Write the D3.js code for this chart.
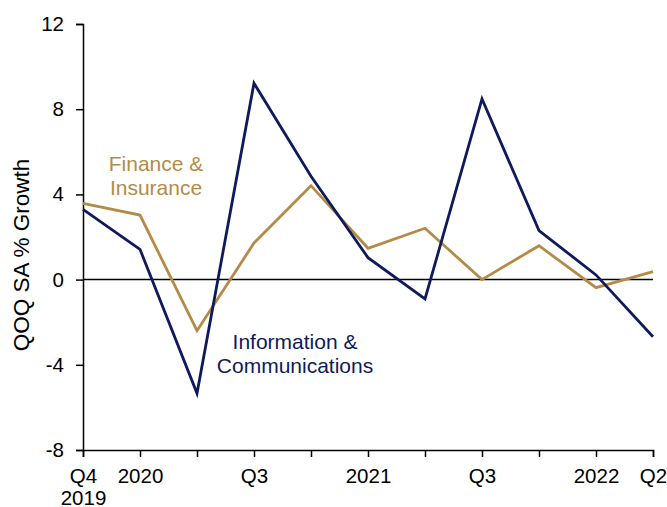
<!DOCTYPE html>
<html>
<head>
<meta charset="utf-8">
<script src="https://cdn.jsdelivr.net/npm/d3@7"></script>
<style>
  body { margin: 0; background: #fff; }
  text { font-family: "Liberation Sans", Arial, sans-serif; }
</style>
</head>
<body>
<div id="chart"></div>
<script>
// quarters from Q4 2019 to Q2 2022
const quarters = ['2019Q4', '2020Q1', '2020Q2', '2020Q3', '2020Q4', '2021Q1', '2021Q2', '2021Q3', '2021Q4', '2022Q1', '2022Q2'];
const tickLabels = [['Q4', '2019'], ['2020'], [''], ['Q3'], [''], ['2021'], [''], ['Q3'], [''], ['2022'], ['Q2']];
const infoComm = [3.3, 1.42, -5.34, 9.22, 4.85, 1.03, -0.91, 8.48, 2.3, 0.22, -2.68];
const finance = [3.58, 3.03, -2.4, 1.72, 4.41, 1.47, 2.41, 0.0, 1.59, -0.38, 0.37];
const yTicks = [-8, -4, 0, 4, 8, 12];

const W = 667, H = 507;
const m = { t: 24, r: 14, b: 57, l: 83 };
const navy = '#0f1a5c', gold = '#b38b46';
const FONT = '"Liberation Sans", Arial, sans-serif';

const svg = d3.select('#chart').append('svg').attr('width', W).attr('height', H);

const x = d3.scalePoint().domain(quarters).range([m.l, W - m.r]);
const y = d3.scaleLinear().domain([-8, 12]).range([H - m.b, m.t]);

// eje Y
svg.append('g')
  .attr('transform', `translate(${m.l},0)`)
  .call(d3.axisLeft(y).tickValues(yTicks).tickSize(7).tickPadding(12).tickFormat(d => String(d)))
  .call(g => g.selectAll('text').attr('font-size', 20.5).attr('fill', '#000').style('font-family', FONT))
  .call(g => g.selectAll('line, path').attr('stroke', '#000').attr('stroke-width', 1.5));

// eje X
const xAxis = svg.append('g')
  .attr('transform', `translate(0,${y(-8)})`)
  .call(d3.axisBottom(x).tickSize(7).tickFormat(''))
  .call(g => g.selectAll('line, path').attr('stroke', '#000').attr('stroke-width', 1.5));

xAxis.selectAll('.tick').each(function (d, i) {
  const t = d3.select(this).append('text')
    .attr('fill', '#000').attr('font-size', 20.5).attr('text-anchor', 'middle')
    .style('font-family', FONT);
  tickLabels[i].forEach((s, k) => {
    t.append('tspan').attr('x', 0).attr('y', 33 + k * 21.5).text(s);
  });
});

// línea de cero
svg.append('line')
  .attr('x1', x(quarters[0])).attr('x2', x(quarters[quarters.length - 1]))
  .attr('y1', y(0)).attr('y2', y(0))
  .attr('stroke', '#000').attr('stroke-width', 1.5);

// título del eje Y
svg.append('text')
  .attr('transform', `translate(29,255) rotate(-90)`)
  .attr('text-anchor', 'middle').attr('font-size', 22.5).attr('fill', '#000')
  .text('QOQ SA % Growth');

const line = d3.line().x((_, i) => x(quarters[i])).y(d => y(d));

svg.append('path').datum(finance)
  .attr('fill', 'none').attr('stroke', gold).attr('stroke-width', 2.8)
  .attr('stroke-linejoin', 'miter').attr('d', line);

svg.append('path').datum(infoComm)
  .attr('fill', 'none').attr('stroke', navy).attr('stroke-width', 2.8)
  .attr('stroke-linejoin', 'miter').attr('d', line);

// etiquetas de serie
function label(lines, cx, y0, color) {
  const t = svg.append('text').attr('text-anchor', 'middle').attr('font-size', 21).attr('fill', color);
  lines.forEach((s, k) => t.append('tspan').attr('x', cx).attr('y', y0 + k * 24).text(s));
}
label(['Finance &', 'Insurance'], 156, 171, gold);
label(['Information &', 'Communications'], 295, 349, navy);
</script>
</body>
</html>
